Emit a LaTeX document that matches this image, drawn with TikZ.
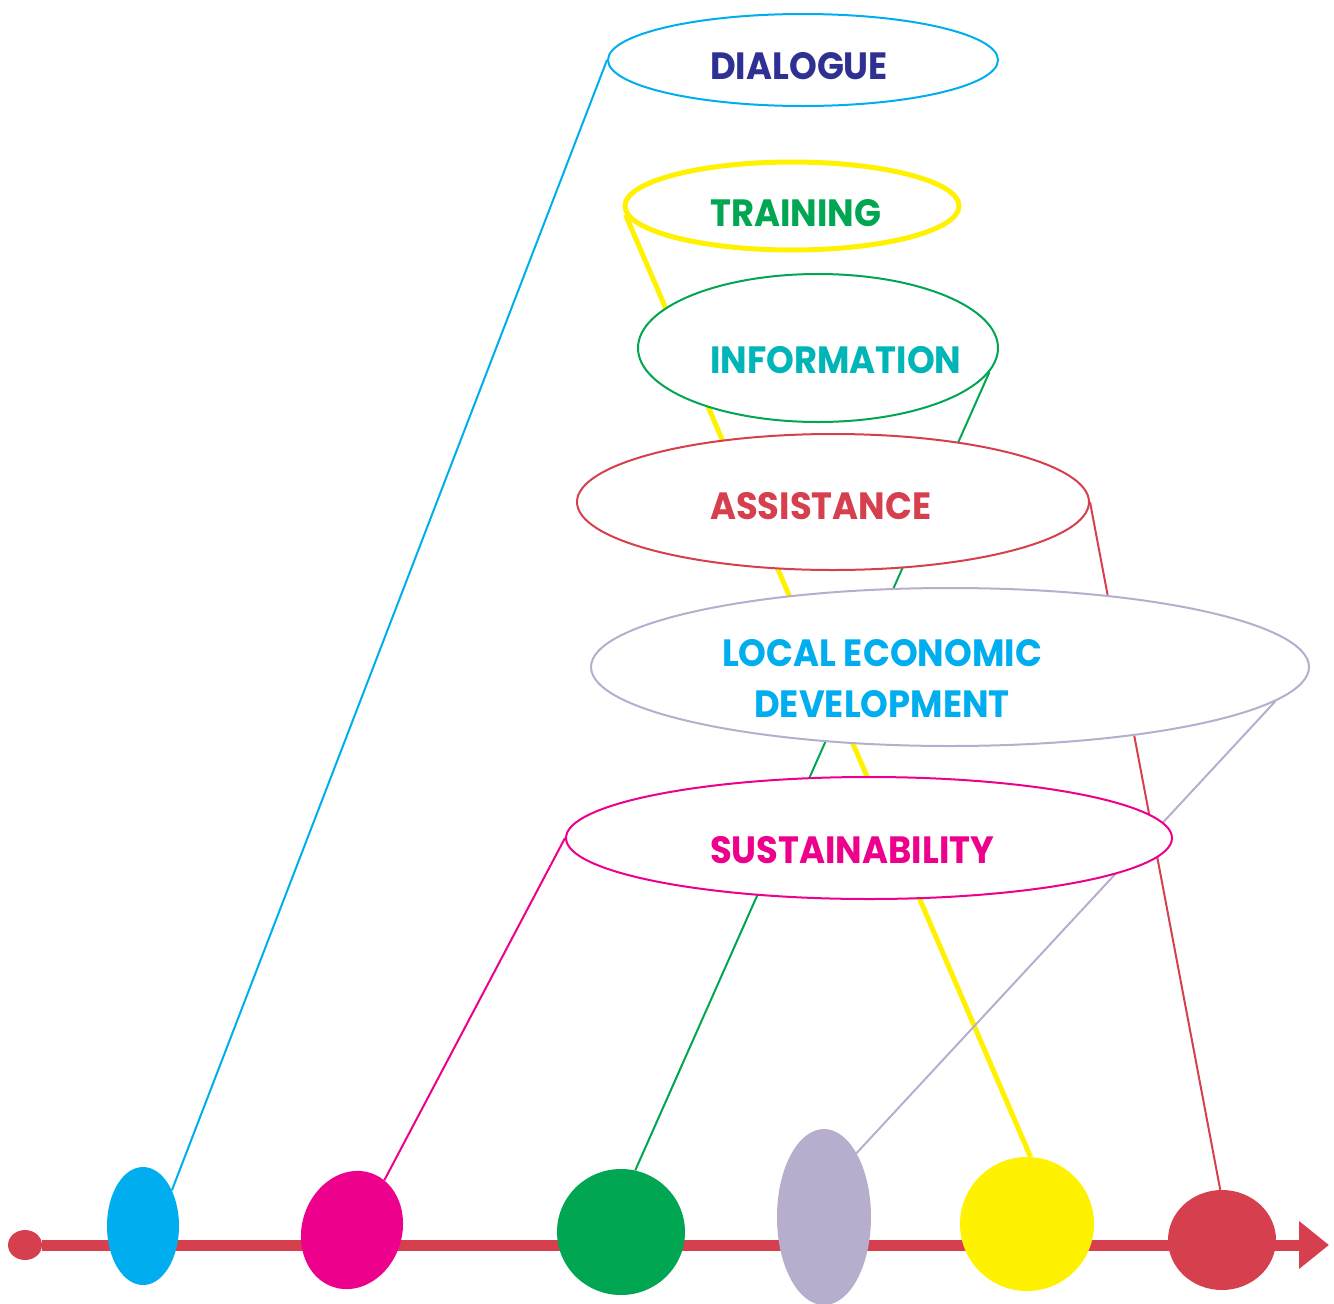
\documentclass[tikz,border=0pt]{standalone}
\usepackage{fontspec}
\newfontfamily\themefont{Poppins}[FakeStretch=0.93]
\usepackage{xcolor}
\usepackage{tikz}
\usetikzlibrary{positioning,calc,shapes.geometric,backgrounds,arrows.meta}
\definecolor{dlgBlue}{RGB}{0,174,239}
\definecolor{dlgNavy}{RGB}{46,49,146}
\definecolor{trnYellow}{RGB}{255,242,0}
\definecolor{trnGreen}{RGB}{0,166,81}
\definecolor{infTeal}{RGB}{0,181,183}
\definecolor{asstRed}{RGB}{214,64,78}
\definecolor{ledLilac}{RGB}{183,174,206}
\definecolor{susMagenta}{RGB}{236,0,140}
\tikzset{
    theme/.style={
        ellipse,
        draw,
        fill=white,
        line width=2pt,
        inner sep=0pt
    },
    themeTxt/.style={
        font=\themefont\bfseries\fontsize{38}{51}\selectfont,
        inner sep=0pt,
        anchor=base west
    },
    blob/.style={
        ellipse,
        draw=none,
        inner sep=0pt
    },
    link/.style={
        line width=2pt
    },
    timeline/.style={
        line width=11pt,
        asstRed,
        -{Triangle[length=30pt, width=46pt]}
    }
}

\begin{document}
\begin{tikzpicture}[x=1pt, y=-1pt]
    \useasboundingbox (0,0) rectangle (1334,1304);

    % Themes (ellipses)
    \node[theme, draw=dlgBlue, minimum width=390pt, minimum height=92pt] (dialogue) at (803,60) {};
    \node[theme, draw=trnYellow, line width=5pt, minimum width=334pt, minimum height=88pt] (training) at (792,206) {};
    \node[theme, draw=trnGreen, minimum width=360pt, minimum height=148pt] (information) at (818,348) {};
    \node[theme, draw=asstRed, minimum width=512pt, minimum height=136pt] (assistance) at (833,502) {};
    \node[theme, draw=ledLilac, minimum width=718pt, minimum height=158pt] (led) at (950,667) {};
    \node[theme, draw=susMagenta, minimum width=606pt, minimum height=122pt] (sustain) at (869,838) {};

    % Texts
    \node[themeTxt, dlgNavy] (dialogueTxt) at (710,79) {DIALOGUE};
    \node[themeTxt, trnGreen] (trainingTxt) at (710,226) {TRAINING};
    \node[themeTxt, infTeal] (informationTxt) at (710,373) {INFORMATION};
    \node[themeTxt, asstRed] (assistanceTxt) at (710,519) {ASSISTANCE};
    \node[themeTxt, dlgBlue, align=center, anchor=base] (ledTxt) at (882,717) {LOCAL ECONOMIC\\DEVELOPMENT};
    \node[themeTxt, susMagenta] (sustainTxt) at (710,863) {SUSTAINABILITY};

    % Timeline blobs
    \node[blob, fill=asstRed, minimum width=34pt, minimum height=30pt] (start) at (25,1245) {};
    \coordinate (arrowEnd) at (1329,1245);
    \node[blob, fill=dlgBlue, minimum width=72pt, minimum height=118pt] (b1) at (143,1226) {};
    \node[blob, fill=susMagenta, minimum width=100pt, minimum height=120pt, rotate=-18] (b2) at (352,1230) {};
    \node[blob, fill=trnGreen, minimum width=128pt, minimum height=126pt] (b3) at (621,1232) {};
    \node[blob, fill=ledLilac, minimum width=94pt, minimum height=176pt] (b4) at (824,1217) {};
    \node[blob, fill=trnYellow, minimum width=134pt, minimum height=134pt] (b5) at (1027,1224) {};
    \node[blob, fill=asstRed, minimum width=108pt, minimum height=100pt] (b6) at (1222,1240) {};

    \begin{scope}[on background layer]
        % Time arrow
        \draw[timeline] (start) -- (arrowEnd);

        % Links
        \draw[link, dlgBlue] (dialogue.west) -- (b1.51);
        \draw[link, trnYellow, line width=5pt] (training.183) -- (b5.87);
        \draw[link, trnGreen] (information.-8) -- (b3.77);
        \draw[link, asstRed] (assistance.east) -- (b6.92);
        \draw[link, ledLilac] (led.-6) -- (b4.63);
        \draw[link, susMagenta] (sustain.west) -- (b2.75);
    \end{scope}
\end{tikzpicture}
\end{document}
